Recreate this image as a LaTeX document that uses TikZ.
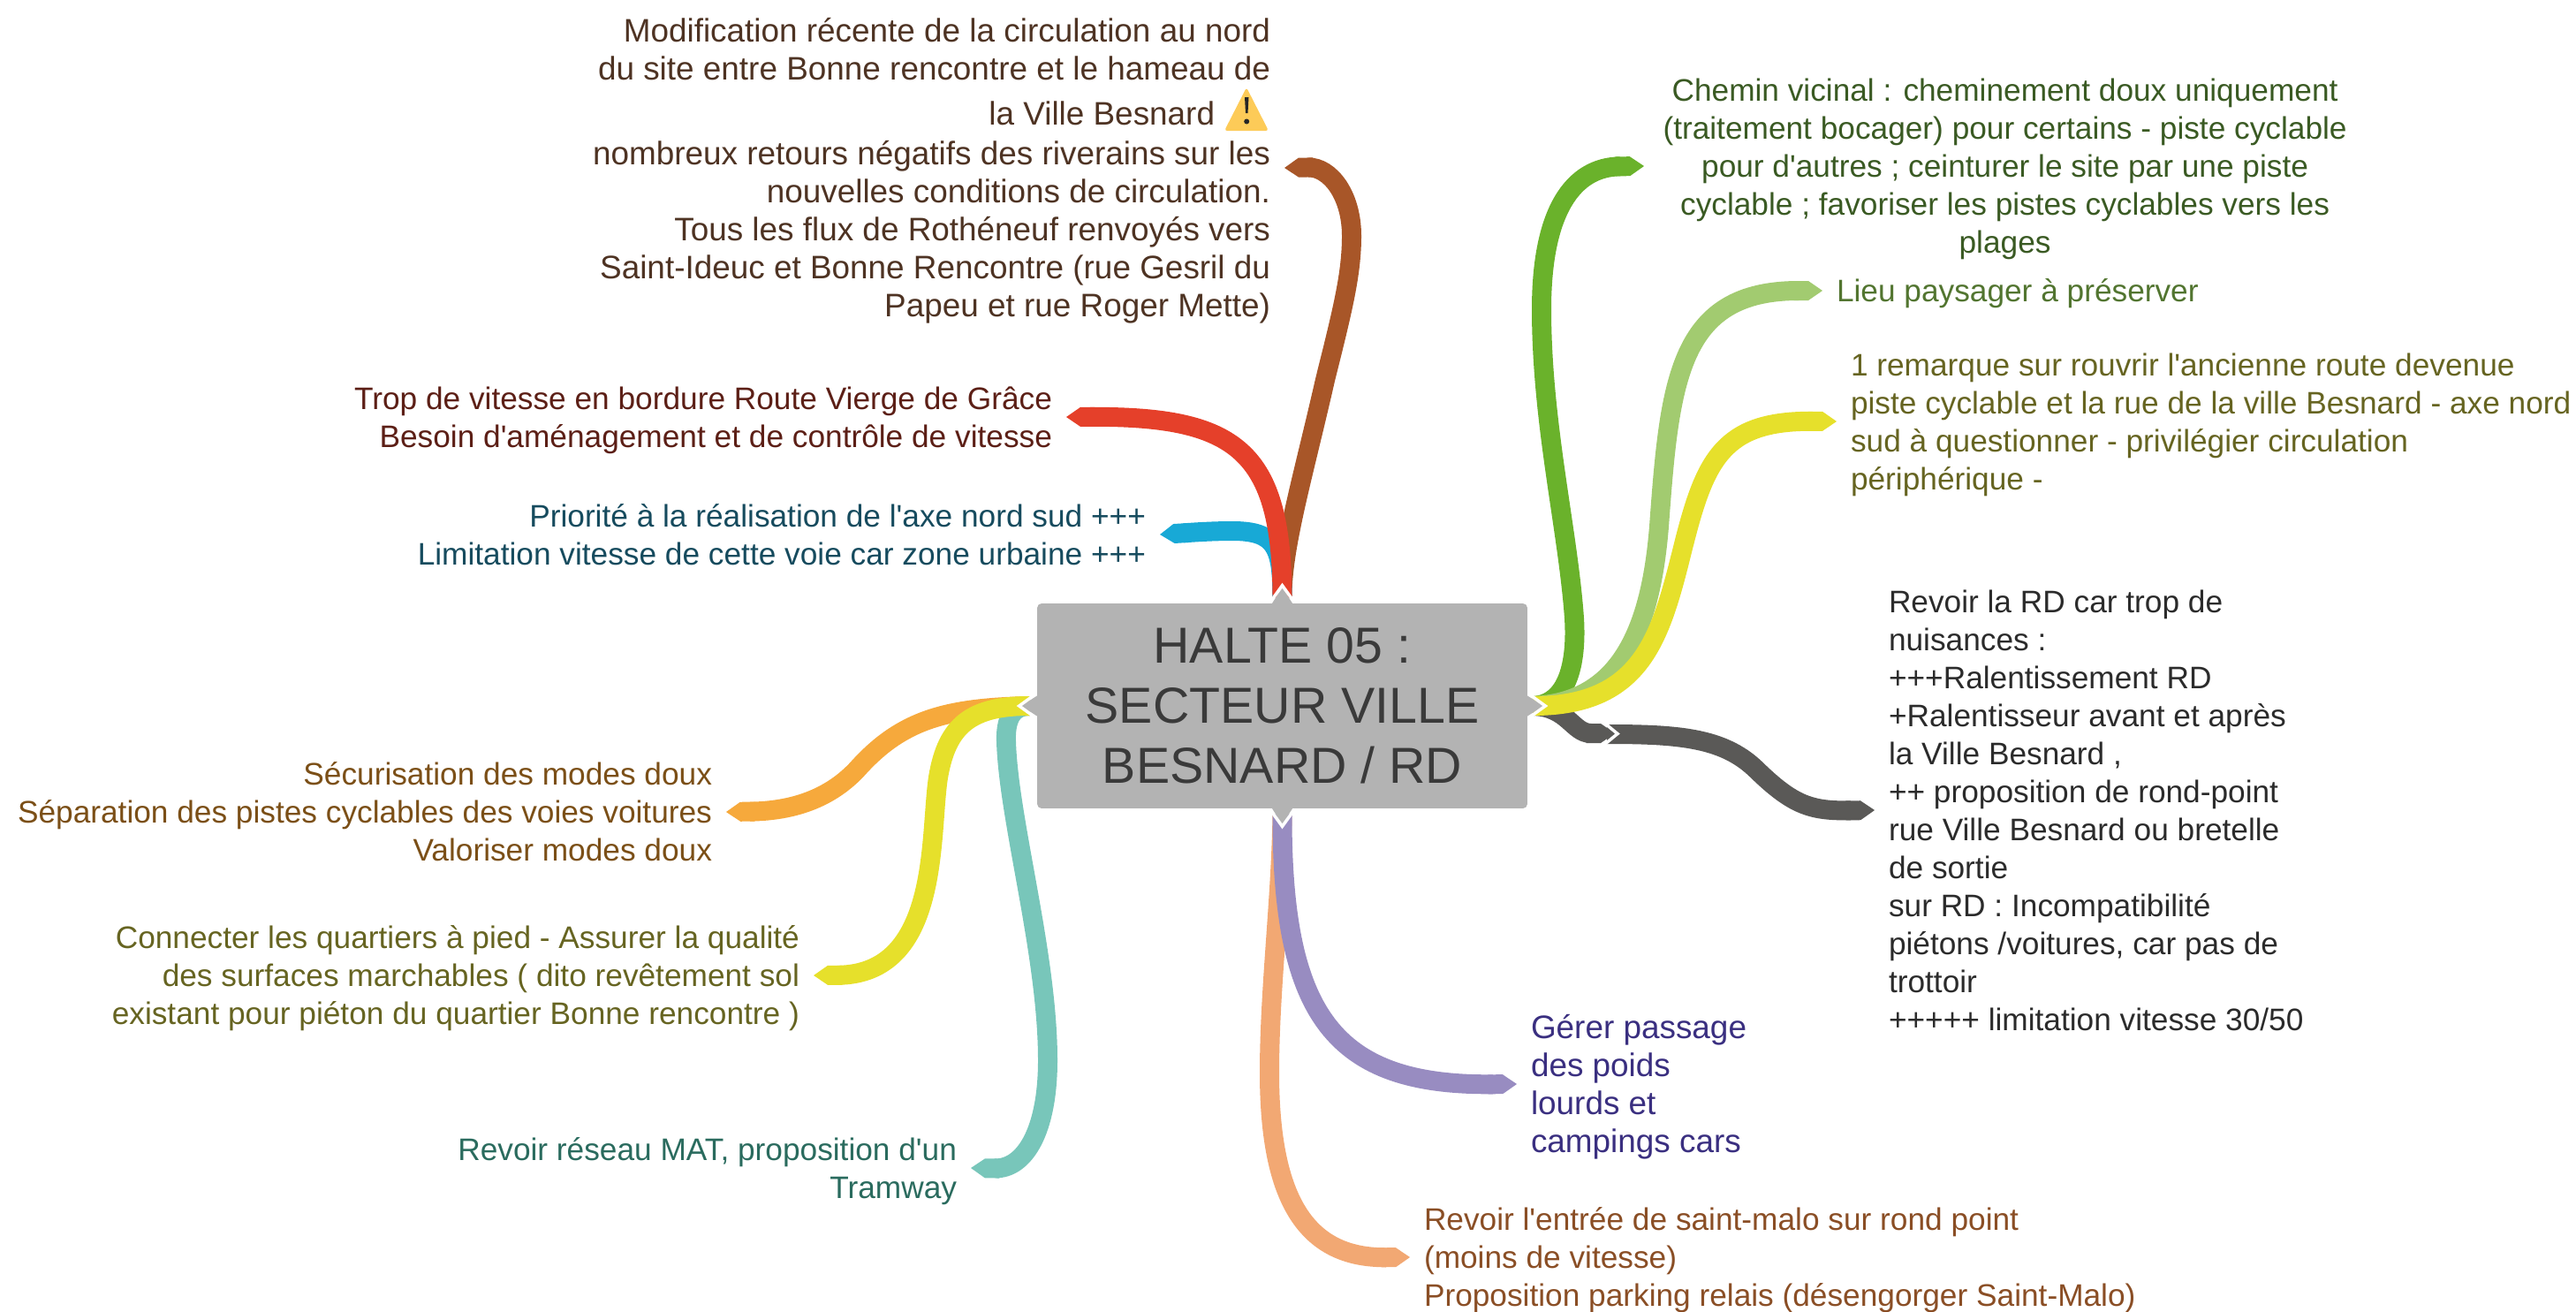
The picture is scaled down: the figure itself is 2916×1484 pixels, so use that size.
\documentclass[tikz,border=0pt]{standalone}
\usepackage{fontspec}
\usepackage{tikz}
\usetikzlibrary{calc,arrows.meta}
\usepackage{xcolor}
\newfontfamily\mapfont{Liberation Sans}
\definecolor{halteGrey}{HTML}{B3B3B3}
\definecolor{halteInk}{HTML}{3A3A3A}
\definecolor{rBrown}{HTML}{A85628}
\definecolor{rRed}{HTML}{E5402A}
\definecolor{rBlue}{HTML}{18A9D6}
\definecolor{rOrange}{HTML}{F6A93C}
\definecolor{rYellow}{HTML}{E6E02B}
\definecolor{rTeal}{HTML}{78C6BA}
\definecolor{rPurple}{HTML}{988CC1}
\definecolor{rSalmon}{HTML}{F2A873}
\definecolor{rGreen}{HTML}{6AB22B}
\definecolor{rLight}{HTML}{A2CB70}
\definecolor{rDark}{HTML}{5A5957}
\definecolor{tBrown}{HTML}{4E3323}
\definecolor{tRed}{HTML}{5C1F16}
\definecolor{tBlue}{HTML}{164B5E}
\definecolor{tOrange}{HTML}{7B4F17}
\definecolor{tOlive}{HTML}{666421}
\definecolor{tTeal}{HTML}{2A6B5E}
\definecolor{tPurple}{HTML}{3A2F80}
\definecolor{tSalmon}{HTML}{8A4E25}
\definecolor{tGreen}{HTML}{3A5A23}
\definecolor{tLight}{HTML}{527530}
\definecolor{tDark}{HTML}{2B2B2B}
\definecolor{warnFill}{HTML}{FDCB58}
\newcommand{\txtlines}[1]{\rule{0pt}{22pt}#1\strut}
\tikzset{
	txt/.style={inner sep=0,outer xsep=.32cm,font=\mapfont\fontsize{20.07}{24.45}\selectfont},
	txtbig/.style={txt,font=\mapfont\fontsize{21}{24.45}\selectfont},
	ribbon/.style={line width=.44cm,-{Triangle Cap[length=.32cm]}},
	chevron/.style={white,line width=.07cm}
}

\begin{document}
\begin{tikzpicture}[x=.02cm,y=-.02cm]
		\useasboundingbox (0,0) rectangle (2916,1484);
		\node[fill=halteGrey,rounded corners=.1cm,minimum width=11.1cm,minimum height=4.64cm,inner sep=0,align=center,text=halteInk,font=\mapfont\fontsize{32.6}{38.6}\selectfont] (halte) at (1451.5,799) {HALTE 05 :\\SECTEUR VILLE\\BESNARD / RD};
		\coordinate (hubE) at ($(halte.east)+(6,0)$);
		\coordinate (hubW) at ($(halte.west)+(-8,0)$);
		\coordinate (hubN) at ($(halte.north)+(0,-6)$);
		\coordinate (hubS) at ($(halte.south)+(0,6)$);
		% top
		\node[txtbig,anchor=east,align=right,text=tBrown] (circulation) at (1454,190) {\txtlines{Modification récente de la circulation au nord\\du site entre Bonne rencontre et le hameau de\\[5pt]la Ville Besnard\rule{35.8pt}{0pt}\\[1pt]nombreux retours négatifs des riverains sur les\\nouvelles conditions de circulation.\\Tous les flux de Rothéneuf renvoyés vers\\Saint-Ideuc et Bonne Rencontre (rue Gesril du\\Papeu et rue Roger Mette)}};
		\node[txt,anchor=east,align=right,text=tRed] (vitesse) at (1207,472) {\txtlines{Trop de vitesse en bordure Route Vierge de Grâce\\Besoin d'aménagement et de contrôle de vitesse}};
		\node[txt,anchor=east,align=right,text=tBlue] (axe) at (1313,605) {\txtlines{Priorité à la réalisation de l'axe nord sud +++\\Limitation vitesse de cette voie car zone urbaine +++}};
		% left
		\node[txt,anchor=east,align=right,text=tOrange] (doux) at (822,919) {\txtlines{Sécurisation des modes doux\\Séparation des pistes cyclables des voies voitures\\Valoriser modes doux}};
		\node[txt,anchor=east,align=right,text=tOlive] (quartiers) at (921,1104) {\txtlines{Connecter les quartiers à pied - Assurer la qualité\\des surfaces marchables ( dito revêtement sol\\existant pour piéton du quartier Bonne rencontre )}};
		\node[txt,anchor=east,align=right,text=tTeal] (tramway) at (1099,1322) {\txtlines{Revoir réseau MAT, proposition d'un\\Tramway}};
		% bottom
		\node[txtbig,anchor=west,align=left,text=tPurple] (poids) at (1717,1227) {\txtlines{Gérer passage\\des poids\\lourds et\\campings cars}};
		\node[txt,anchor=west,align=left,text=tSalmon] (entree) at (1596,1423) {\txtlines{Revoir l'entrée de saint-malo sur rond point\\(moins de vitesse)\\Proposition parking relais (désengorger Saint-Malo)}};
		% right
		\node[txt,outer xsep=.43cm,anchor=west,align=center,text=tGreen] (vicinal) at (1861,188) {\txtlines{Chemin vicinal : cheminement doux uniquement\\(traitement bocager) pour certains - piste cyclable\\pour d'autres ; ceinturer le site par une piste\\cyclable ; favoriser les pistes cyclables vers les\\plages}};
		\node[txt,anchor=west,align=left,text=tLight] (lieu) at (2063,329) {\txtlines{Lieu paysager à préserver}};
		\node[txt,anchor=west,align=left,text=tOlive] (route) at (2079,477) {\txtlines{1 remarque sur rouvrir l'ancienne route devenue\\piste cyclable et la rue de la ville Besnard - axe nord\\sud à questionner - privilégier circulation\\périphérique -}};
		\node[txt,anchor=west,align=left,text=tDark] (rd) at (2122,917) {\txtlines{Revoir la RD car trop de\\nuisances :\\+++Ralentissement RD\\+Ralentisseur avant et après\\la Ville Besnard ,\\++ proposition de rond-point\\rue Ville Besnard ou bretelle\\de sortie\\sur RD : Incompatibilité\\piétons /voitures, car pas de\\trottoir\\+++++ limitation vitesse 30/50}};
		% warning sign
		\fill[warnFill,rounded corners=.06cm] (1411,99)--(1436,148)--(1386,148)--cycle;
		\fill[black!85] (1409,110)--(1413.5,110)--(1412.5,128)--(1410,128)--cycle;
		\fill[black!85] (1411.2,137.5) circle (3);
		% ribbons, top
		\draw[ribbon,rBrown] (hubN) .. controls (1451,620) and (1475,540) .. (1500,430) .. controls (1520,350) and (1530,310) .. (1530,267) .. controls (1530,220) and (1505,189) .. (circulation.east);
		\draw[ribbon,rBlue] (hubN) .. controls (1451,620) and (1445,601) .. (1395,601) .. controls (1370,601) and (1345,603) .. (axe.east);
		\draw[ribbon,rRed] (hubN) .. controls (1451,510) and (1400,471) .. (vitesse.east);
		% ribbons, left
		\draw[ribbon,rOrange] (hubW) .. controls (1070,801) and (1020,815) .. (970,871) .. controls (935,908) and (890,918) .. (doux.east);
		\draw[ribbon,rTeal] (hubW) .. controls (1145,799) and (1138,815) .. (1139,840) .. controls (1142,930) and (1186,1080) .. (1186,1200) .. controls (1186,1280) and (1160,1323) .. (tramway.east);
		\draw[ribbon,rYellow] (hubW) .. controls (1100,799) and (1072,820) .. (1062,880) .. controls (1052,945) and (1065,1103) .. (quartiers.east);
		% ribbons, bottom
		\draw[ribbon,rSalmon] (hubS) .. controls (1450,1020) and (1437,1120) .. (1437,1214) .. controls (1437,1360) and (1480,1424) .. (entree.west);
		\draw[ribbon,rPurple] (hubS) .. controls (1451,1150) and (1510,1229) .. (poids.west);
		% ribbons, right
		\coordinate (rdjoin) at (1819,831);
		\draw[ribbon,rDark] (rdjoin) .. controls (1900,831) and (1950,835) .. (1987,870) .. controls (2030,912) and (2050,918) .. (rd.west);
		\draw[ribbon,rDark] (hubE) .. controls (1775,800) and (1780,830) .. (1828,830);
		\draw[chevron] (1817,819)--(1831,830.5)--(1817,842);
		\draw[ribbon,rGreen] (hubE) .. controls (1775,797) and (1785,750) .. (1782,700) .. controls (1775,600) and (1745,480) .. (1745,350) .. controls (1745,240) and (1780,189) .. (vicinal.west);
		\draw[ribbon,rLight] (hubE) .. controls (1830,795) and (1868,720) .. (1878,596) .. controls (1890,430) and (1900,329) .. (lieu.west);
		\draw[ribbon,rYellow] (hubE) .. controls (1860,799) and (1880,720) .. (1905,620) .. controls (1930,520) and (1950,476) .. (route.west);
		% tabs on the box
		\foreach \tabname/\tabrot in {halte.east/0,halte.north/90,halte.west/180,halte.south/-90}{
			\begin{scope}[shift={(\tabname)},rotate=\tabrot]
				\fill[halteGrey] (-1,-12)--(18,0)--(-1,12)--cycle;
				\draw[chevron] (2,-13)--(20,0)--(2,13);
			\end{scope}
		}
	\end{tikzpicture}
\end{document}
